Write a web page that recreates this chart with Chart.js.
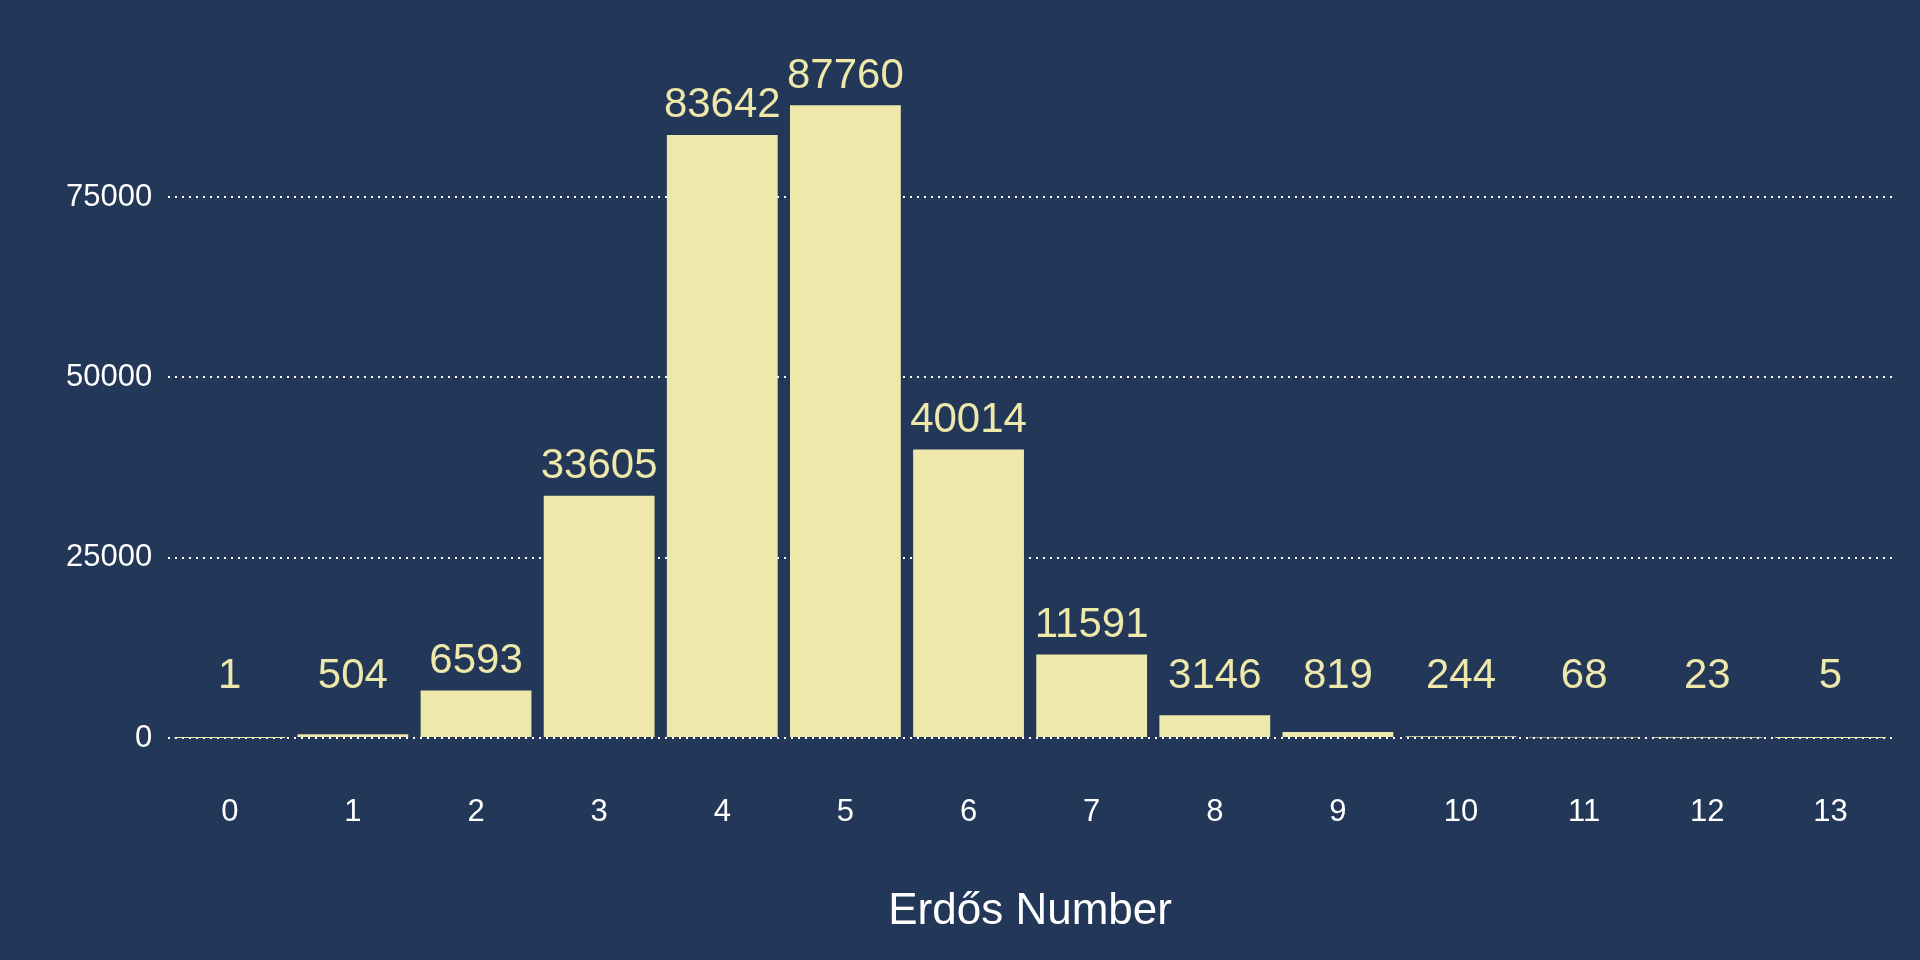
<!DOCTYPE html>
<html>
<head>
<meta charset="utf-8">
<script src="https://cdn.jsdelivr.net/npm/chart.js@4"></script>
<style>
html, body { margin: 0; padding: 0; background: #233759; }
#wrap { width: 1920px; height: 960px; }
</style>
</head>
<body>
<div id="wrap"><canvas id="chart"></canvas></div>
<script>
const erdosNumbers = ["0", "1", "2", "3", "4", "5", "6", "7", "8", "9", "10", "11", "12", "13"];
const counts = [1, 504, 6593, 33605, 83642, 87760, 40014, 11591, 3146, 819, 244, 68, 23, 5];
const yTicks = [0, 25000, 50000, 75000];

const barColor = "#eee8aa";
const fontFamily = "'Liberation Sans', Arial, sans-serif";

// draws the count above each bar
const valueLabels = {
    id: "valueLabels",
    afterDatasetsDraw(chart) {
        const ctx = chart.ctx;
        const meta = chart.getDatasetMeta(0);
        ctx.save();
        ctx.fillStyle = barColor;
        ctx.font = "42px " + fontFamily;
        ctx.textAlign = "center";
        ctx.textBaseline = "bottom";
        meta.data.forEach((bar, i) => {
            const top = Math.min(bar.y, chart.scales.y.getPixelForValue(4500));
            ctx.fillText(String(counts[i]), bar.x, top - 8);
        });
        ctx.restore();
    },
};

new Chart(document.getElementById("chart"), {
    type: "bar",
    data: {
        labels: erdosNumbers,
        datasets: [{
            data: counts,
            backgroundColor: barColor,
            categoryPercentage: 1,
            barPercentage: 0.9,
        }],
    },
    options: {
        responsive: true,
        maintainAspectRatio: false,
        animation: false,
        layout: { padding: { left: 50, right: 28, top: 53, bottom: 18 } },
        plugins: { legend: { display: false }, tooltip: { enabled: false } },
        scales: {
            x: {
                grid: { display: false },
                border: { display: false },
                ticks: { color: "#ffffff", font: { size: 31, family: fontFamily }, padding: 48 },
                title: {
                    display: true,
                    text: "Erdős Number",
                    color: "#ffffff",
                    font: { size: 44, family: fontFamily },
                    padding: { top: 6 },
                },
            },
            y: {
                min: 0,
                max: 95000,
                afterBuildTicks: (axis) => { axis.ticks = yTicks.map((v) => ({ value: v })); },
                grid: {
                    color: "#ffffff",
                    lineWidth: 2,
                    drawTicks: false,
                },
                border: { display: false, dash: [2, 5] },
                ticks: {
                    color: "#ffffff",
                    font: { size: 31, family: fontFamily },
                    padding: 16,
                    callback: (v) => String(v),
                },
            },
        },
    },
    plugins: [valueLabels],
});
</script>
</body>
</html>
